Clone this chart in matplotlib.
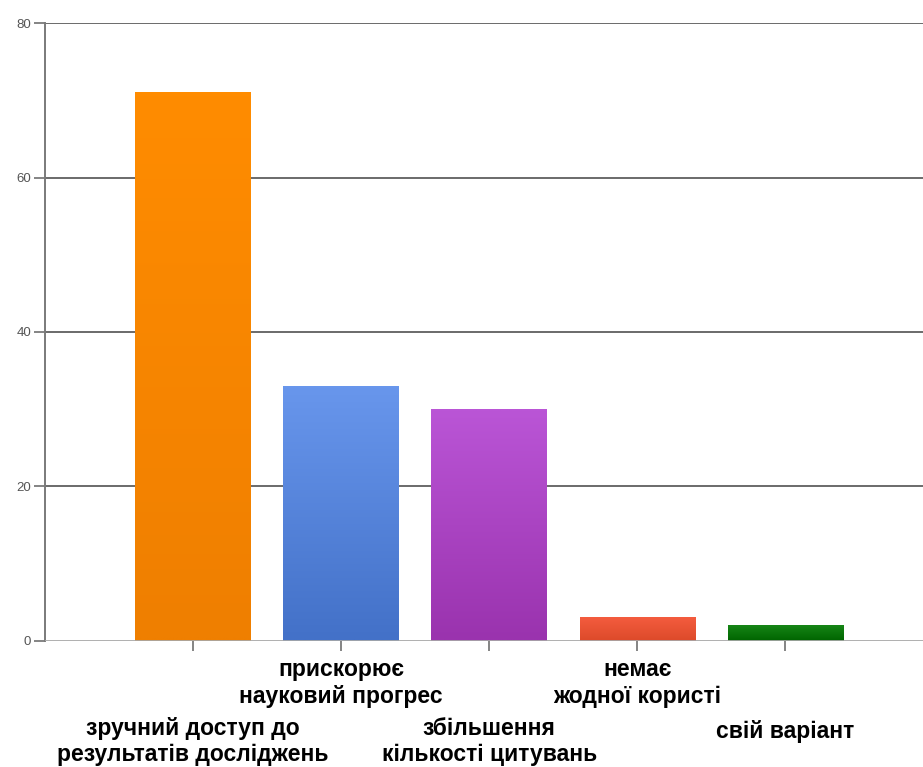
import numpy as np
import matplotlib
matplotlib.use("Agg")
import matplotlib.pyplot as plt
from matplotlib.colors import to_rgb

categories = [
    "зручний доступ до\nрезультатів досліджень",
    "прискорює\nнауковий прогрес",
    "збільшення\nкількості цитувань",
    "немає\nжодної користі",
    "свій варіант",
]
values = [71, 33, 30, 3, 2]
top_colors = ["#ff8c00", "#6896ec", "#ba55d6", "#f45c3e", "#168516"]
bottom_colors = ["#ef7f00", "#4371c8", "#9a33ae", "#dc4a2a", "#006400"]

plt.rcParams['font.family'] = ['Liberation Sans', 'DejaVu Sans']

fig = plt.figure(figsize=(9.23, 7.67), dpi=100, facecolor='white')
ax = fig.add_axes([0.0488, 0.1643, 0.9512, 0.8057])

width = 0.78
x = np.arange(len(values))
for i, v in enumerate(values):
    c1 = np.array(to_rgb(top_colors[i]))
    c2 = np.array(to_rgb(bottom_colors[i]))
    t = np.linspace(0, 1, 64)[:, None]
    grad = (c1 * (1 - t) + c2 * t)[:, None, :]
    ax.imshow(grad, extent=[x[i] - width / 2, x[i] + width / 2, 0, v],
              aspect='auto', origin='upper', zorder=3, interpolation='bilinear')

ax.set_xlim(-1, 4.93)
ax.set_ylim(0, 80)

# grid lines
for yv in [20, 40, 60, 80]:
    ax.axhline(yv, color='#6a6a6a', lw=1.4, zorder=1)
ax.axhline(0, color='#a8a8a8', lw=2.0, zorder=4)

ax.set_yticks([0, 20, 40, 60, 80])
ax.tick_params(axis='y', length=8, width=1.2, color='#707070',
               labelsize=9.5, labelcolor='#555555', pad=2)
ax.set_xticks(x)
ax.set_xticklabels([])
ax.tick_params(axis='x', length=7, width=1.2, color='#707070', direction='out')

for s in ['top', 'right', 'bottom']:
    ax.spines[s].set_visible(False)
ax.spines['left'].set_color('#7a7a7a')
ax.spines['left'].set_linewidth(1.4)

# staggered category labels
offsets = [-54.5, -12.5, -54.5, -12.5, -57]
for i, lab in enumerate(categories):
    ax.annotate(lab, xy=(x[i], 0), xycoords=('data', 'axes fraction'),
                xytext=(0, offsets[i]), textcoords='offset points',
                ha='center', va='top', fontsize=16.5, fontweight='bold',
                linespacing=1.2, color='black', annotation_clip=False)

fig.savefig("out.png", dpi=100)
